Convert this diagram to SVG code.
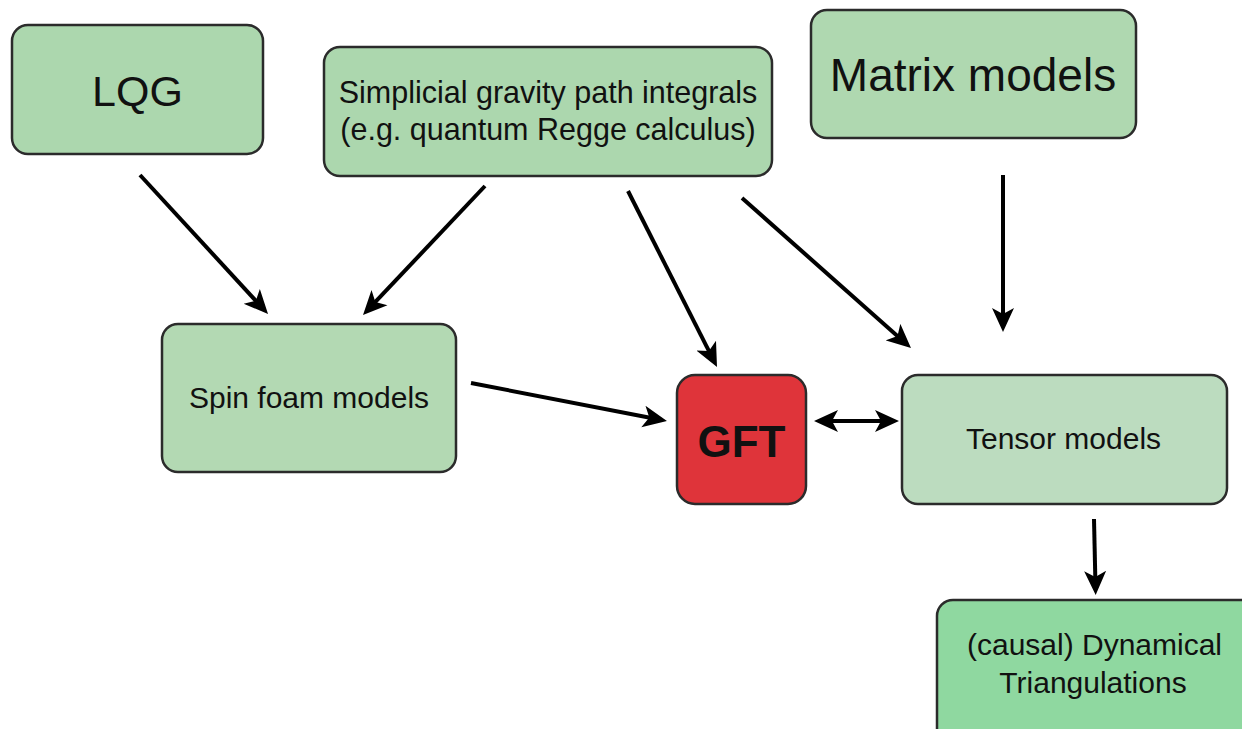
<svg xmlns="http://www.w3.org/2000/svg" width="1242" height="729" viewBox="0 0 1242 729">
<style>
.box{stroke:#2b2b2b;stroke-width:2.5}
.green{fill:#acd7ae}
.t{font-family:"Liberation Sans",Arial,sans-serif;fill:#111;text-anchor:middle}
.conn{stroke:#000;stroke-width:4;fill:none}
</style>
<defs>
<marker id="ah" viewBox="0 0 24 24" refX="16" refY="12" markerWidth="24" markerHeight="24" markerUnits="userSpaceOnUse" orient="auto-start-reverse">
<path d="M0,1 L24,12 L0,23 L6,12 z" fill="#000"/>
</marker>
</defs>
<rect width="1242" height="729" fill="#fff"/>
<g id="lqg">
<rect class="box green" x="12" y="25" width="251" height="129" rx="16"/>
<text class="t" x="137.5" y="106" font-size="43">LQG</text>
</g>
<g id="simplicial">
<rect class="box green" x="324" y="47" width="448" height="129" rx="16"/>
<text class="t" x="548" y="103" font-size="30.5">Simplicial gravity path integrals</text>
<text class="t" x="548" y="140" font-size="30.5">(e.g. quantum Regge calculus)</text>
</g>
<g id="matrix">
<rect class="box" fill="#afd8b0" x="811" y="10" width="325" height="128" rx="16"/>
<text class="t" x="973" y="91" font-size="46">Matrix models</text>
</g>
<g id="spinfoam">
<rect class="box" fill="#b3d9b3" x="162" y="324" width="294" height="148" rx="16"/>
<text class="t" x="309" y="408" font-size="30">Spin foam models</text>
</g>
<g id="gft">
<rect class="box" fill="#df343a" x="677" y="375" width="129" height="129" rx="18"/>
<text class="t" x="741.5" y="457" font-size="44" font-weight="bold">GFT</text>
</g>
<g id="tensor">
<rect class="box" fill="#bcdcbf" x="902" y="375" width="325" height="129" rx="16"/>
<text class="t" x="1063.5" y="449" font-size="30">Tensor models</text>
</g>
<g id="cdt">
<rect class="box" fill="#8fd8a0" x="937" y="600" width="320" height="150" rx="16"/>
<text class="t" x="1094.5" y="655" font-size="30">(causal) Dynamical</text>
<text class="t" x="1093" y="693" font-size="30">Triangulations</text>
</g>
<g id="connectors">
<line class="conn" x1="140" y1="175" x2="262.6" y2="308.1" marker-end="url(#ah)"/>
<line class="conn" x1="485" y1="186" x2="368.5" y2="309.2" marker-end="url(#ah)"/>
<line class="conn" x1="628" y1="191" x2="713.4" y2="359.9" marker-end="url(#ah)"/>
<line class="conn" x1="742" y1="198" x2="905" y2="342.7" marker-end="url(#ah)"/>
<line class="conn" x1="1003" y1="175" x2="1003" y2="324" marker-end="url(#ah)"/>
<line class="conn" x1="471" y1="383" x2="659.1" y2="419.5" marker-end="url(#ah)"/>
<line class="conn" x1="822" y1="421" x2="891" y2="421" marker-start="url(#ah)" marker-end="url(#ah)"/>
<line class="conn" x1="1094" y1="519" x2="1095.5" y2="587" marker-end="url(#ah)"/>
</g>
</svg>
